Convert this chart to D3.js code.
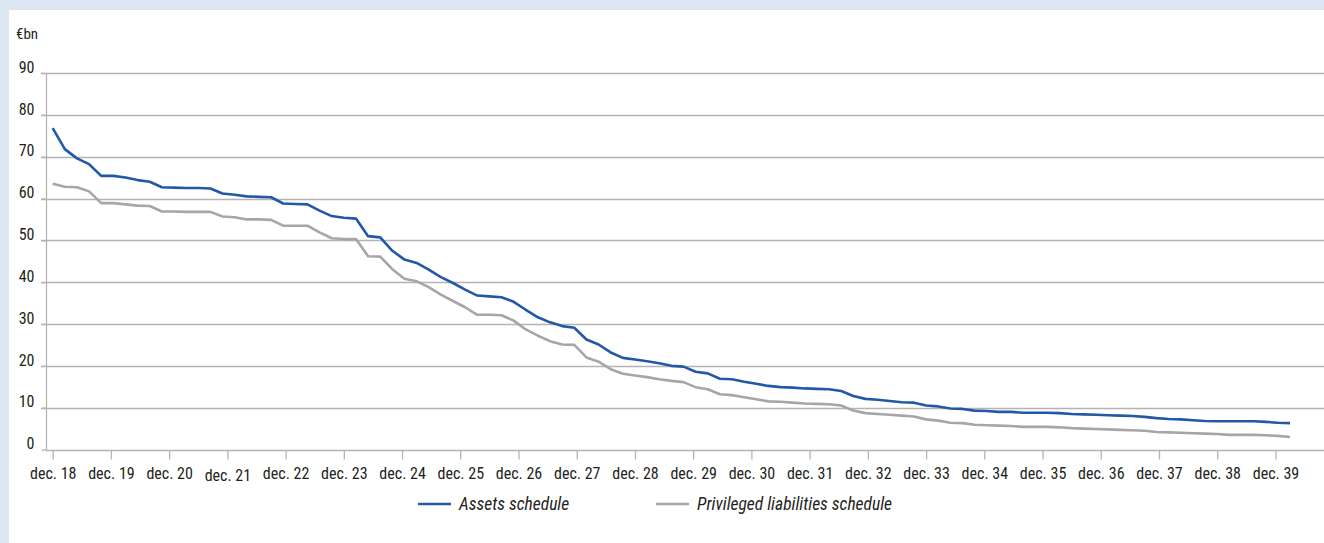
<!DOCTYPE html>
<html>
<head>
<meta charset="utf-8">
<script src="https://cdn.jsdelivr.net/npm/d3@7"></script>
<style>
  html, body { margin: 0; padding: 0; background: #dce6f0; }
  svg { display: block; }
  text { font-family: "Liberation Sans Narrow", "Arial Narrow", "Roboto Condensed", sans-serif; fill: #231f20; }
</style>
</head>
<body>
<svg id="chart" width="1324" height="543"></svg>
<script>
// ---- data ----
const tickLabels = ["dec. 18","dec. 19","dec. 20","dec. 21","dec. 22","dec. 23","dec. 24","dec. 25","dec. 26","dec. 27","dec. 28","dec. 29","dec. 30","dec. 31","dec. 32","dec. 33","dec. 34","dec. 35","dec. 36","dec. 37","dec. 38","dec. 39"];
const pointsPerYear = 4.8; // observation interval: 2.5 months
const assetsSchedule = [76.8,71.8,69.6,68.2,65.4,65.4,65.0,64.4,64.0,62.7,62.6,62.5,62.5,62.4,61.2,60.9,60.5,60.4,60.3,58.8,58.7,58.6,57.1,55.8,55.4,55.2,51.0,50.7,47.5,45.4,44.6,43.0,41.2,39.8,38.2,36.8,36.6,36.4,35.3,33.4,31.6,30.4,29.5,29.1,26.3,25.1,23.2,21.9,21.5,21.1,20.6,20.0,19.8,18.6,18.2,16.9,16.8,16.2,15.7,15.2,14.9,14.8,14.6,14.5,14.4,14.0,12.8,12.1,11.9,11.6,11.3,11.2,10.5,10.3,9.8,9.7,9.3,9.2,9.0,9.0,8.8,8.8,8.8,8.7,8.5,8.4,8.3,8.2,8.1,8.0,7.8,7.5,7.3,7.2,7.0,6.8,6.75,6.75,6.75,6.75,6.6,6.4,6.3];
const privilegedLiabilities = [63.5,62.8,62.7,61.7,58.9,58.9,58.6,58.3,58.2,56.9,56.9,56.8,56.8,56.8,55.7,55.5,55.0,55.0,54.9,53.5,53.5,53.5,51.9,50.5,50.3,50.3,46.2,46.1,43.1,40.8,40.2,38.8,37.0,35.5,34.0,32.2,32.2,32.1,30.8,28.7,27.2,25.9,25.1,25.0,22.0,21.0,19.2,18.1,17.7,17.3,16.8,16.4,16.1,14.9,14.4,13.2,13.0,12.5,12.0,11.5,11.4,11.2,11.0,10.9,10.8,10.5,9.3,8.7,8.5,8.3,8.1,7.9,7.2,6.9,6.4,6.3,5.9,5.8,5.7,5.6,5.4,5.4,5.4,5.3,5.1,5.0,4.9,4.8,4.7,4.6,4.5,4.2,4.1,4.0,3.9,3.8,3.7,3.5,3.5,3.5,3.4,3.25,3.0];
const yTicks = [0,10,20,30,40,50,60,70,80,90];
const seriesNames = ["Assets schedule", "Privileged liabilities schedule"];
const seriesColors = ["#2159a8", "#a6a6a8"];
const unitLabel = "€bn";

// ---- layout ----
const svg = d3.select("#chart");
svg.append("rect").attr("x", 9).attr("y", 10).attr("width", 1315).attr("height", 533).attr("fill", "#ffffff");

const x = d3.scaleLinear().domain([0, assetsSchedule.length - 1]).range([52.7, 1290]);
const y = d3.scaleLinear().domain([0, 90]).range([449.5, 73]);
const gridColor = "#b4b4b4";

// gridlines
svg.append("g").selectAll("line").data(yTicks.filter(d => d > 0)).join("line")
  .attr("x1", 41).attr("x2", 1324)
  .attr("y1", d => Math.round(y(d)) + 0.5).attr("y2", d => Math.round(y(d)) + 0.5)
  .attr("stroke", gridColor).attr("stroke-width", 1.3);

// y axis line
svg.append("line").attr("x1", 46.5).attr("x2", 46.5).attr("y1", y(90)).attr("y2", y(0))
  .attr("stroke", gridColor).attr("stroke-width", 1.3);

// y axis labels
const yAxis = d3.axisLeft(y).tickValues(yTicks).tickSize(5).tickPadding(7);
const gy = svg.append("g").attr("transform", "translate(46.5,0)").call(yAxis);
gy.select(".domain").remove();
gy.selectAll(".tick line").attr("stroke", gridColor).attr("stroke-width", 1.3);
gy.selectAll(".tick text").attr("dy", "-0.05em").style("font-size", "16px").attr("fill", "#231f20");

// x axis
const tickIdx = tickLabels.map((_, i) => i * pointsPerYear);
const xAxis = d3.axisBottom(x).tickValues(tickIdx).tickFormat((d, i) => tickLabels[i]).tickSize(9).tickPadding(7);
const gx = svg.append("g").attr("transform", `translate(0,${Math.round(y(0)) + 0.5})`).call(xAxis);
gx.select(".domain").attr("d", `M46,0H1324`).attr("stroke", gridColor).attr("stroke-width", 1.6);
gx.selectAll(".tick line").attr("stroke", gridColor).attr("stroke-width", 1.3);
gx.selectAll(".tick text").style("font-size", "16px").attr("fill", "#231f20")
  .attr("dy", (d, i) => i === 3 ? "0.88em" : "0.76em");

// unit label
svg.append("text").attr("x", 16).attr("y", 39).text(unitLabel).style("font-size", "15px");

// lines
const lineGen = d3.line().x((d, i) => x(i)).y(d => y(d));
[assetsSchedule, privilegedLiabilities].slice().reverse().forEach((s, k) => {
  const idx = 1 - k;
  svg.append("path").datum(s).attr("d", lineGen)
    .attr("fill", "none").attr("stroke", seriesColors[idx]).attr("stroke-width", 2.6)
    .attr("stroke-linejoin", "round");
});

// legend
const legendItems = [{x: 418, name: seriesNames[0], color: seriesColors[0]}, {x: 656, name: seriesNames[1], color: seriesColors[1]}];
const lg = svg.append("g");
legendItems.forEach(it => {
  lg.append("line").attr("x1", it.x).attr("x2", it.x + 33).attr("y1", 504).attr("y2", 504)
    .attr("stroke", it.color).attr("stroke-width", 2.6);
  lg.append("text").attr("x", it.x + 41).attr("y", 510).text(it.name)
    .style("font-size", "17.5px").style("font-style", "italic");
});
</script>
</body>
</html>
